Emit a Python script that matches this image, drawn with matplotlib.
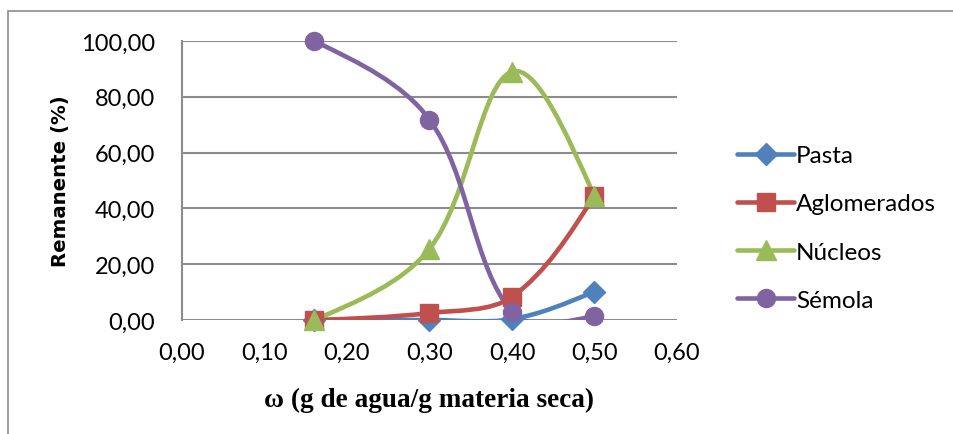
import matplotlib
matplotlib.use("Agg")
import matplotlib.pyplot as plt
import numpy as np
from matplotlib.path import Path
from matplotlib.patches import PathPatch, Rectangle
from matplotlib.lines import Line2D

# data
omega = [0.16, 0.30, 0.40, 0.50]
pasta = [0.0, 0.0, 0.3, 10.2]
aglomerados = [0.0, 2.5, 8.3, 44.6]
nucleos = [0.0, 25.5, 89.0, 44.3]
semola = [100.0, 71.8, 2.8, 1.5]

series_names = ["Pasta", "Aglomerados", "Núcleos", "Sémola"]
series_values = [pasta, aglomerados, nucleos, semola]
colors = ["#4F81BD", "#C0504D", "#9BBB59", "#8064A2"]
markers = ["D", "s", "^", "o"]
marker_sizes = [11, 13, 14, 13]

x_ticks = [0.0, 0.1, 0.2, 0.3, 0.4, 0.5, 0.6]
y_ticks = [0, 20, 40, 60, 80, 100]

tick_font = "Lato"


def smooth_path(ax, xs, ys):
    # Excel-like smoothed line: cubic Bezier pieces, tangents weighted by
    # the on-screen length of the neighbouring segments
    pts = ax.transData.transform(np.column_stack([xs, ys]))
    n = len(pts)
    after = [None] * n
    before = [None] * n
    for i in range(1, n - 1):
        d0 = np.hypot(*(pts[i] - pts[i - 1]))
        d1 = np.hypot(*(pts[i + 1] - pts[i]))
        tan = pts[i + 1] - pts[i - 1]
        before[i] = pts[i] - tan * d0 / (d0 + d1) / 3.0
        after[i] = pts[i] + tan * d1 / (d0 + d1) / 3.0
    after[0] = pts[0] + 0.5 * (before[1] - pts[0])
    before[n - 1] = pts[n - 1] + 0.5 * (after[n - 2] - pts[n - 1])
    verts = [pts[0]]
    codes = [Path.MOVETO]
    for i in range(n - 1):
        verts += [after[i], before[i + 1], pts[i + 1]]
        codes += [Path.CURVE4] * 3
    inv = ax.transData.inverted()
    return Path(inv.transform(np.array(verts)), codes)


fig = plt.figure(figsize=(9.54, 4.35), dpi=100)
fig.patches.append(Rectangle((8 / 954, -0.1), 1.2, 1 - 12 / 435 + 0.1,
                             transform=fig.transFigure, fill=False,
                             edgecolor="#8c8c8c", linewidth=1.2))

ax = fig.add_axes([182 / 954, 1 - 321 / 435, 495 / 954, 279 / 435])
ax.set_xlim(0, 0.6)
ax.set_ylim(0, 100)

for name, vals, c, m, ms in zip(series_names, series_values, colors, markers, marker_sizes):
    patch = PathPatch(smooth_path(ax, omega, vals), facecolor="none", edgecolor=c,
                      linewidth=3.3, capstyle="round", joinstyle="round")
    ax.add_patch(patch)
    ax.plot(omega, vals, linestyle="none", marker=m, markersize=ms, color=c,
            markeredgecolor=c, clip_on=False, zorder=5)

ax.set_xticks(x_ticks)
ax.set_yticks(y_ticks)
ax.set_xticklabels([f"{v:.2f}".replace(".", ",") for v in x_ticks],
                   fontfamily=tick_font, fontsize=17)
ax.set_yticklabels([f"{v:.2f}".replace(".", ",") for v in y_ticks],
                   fontfamily=tick_font, fontsize=17)
ax.tick_params(axis="both", length=0)
ax.tick_params(axis="x", pad=16)
ax.tick_params(axis="y", pad=19.5)

ax.grid(axis="y", color="#8c8c8c", linewidth=1.5)
ax.set_axisbelow(True)
for side in ["top", "right", "bottom"]:
    ax.spines[side].set_visible(False)
ax.spines["left"].set_color("#8c8c8c")
ax.spines["left"].set_linewidth(1.5)

ax.set_xlabel("ω (g de agua/g materia seca)", fontfamily="Liberation Serif",
              fontweight="bold", fontsize=19.6)
ax.xaxis.set_label_coords(0.5, -0.283)
ax.xaxis.label.set_va("center")
ax.set_ylabel("Remanente (%)", fontfamily="DejaVu Sans", fontweight="bold",
              fontsize=14.2)
ax.yaxis.set_label_coords(-0.246, 0.5)
ax.yaxis.label.set_va("center")

handles = [Line2D([], [], color=c, marker=m, markersize=ms, linewidth=3.3,
                  solid_capstyle="round")
           for c, m, ms in zip(colors, markers, marker_sizes)]
leg = fig.legend(handles, series_names, loc="center left",
                 bbox_to_anchor=(737 / 954, 1 - 229 / 435), frameon=False,
                 prop={"family": tick_font, "size": 17.5},
                 handlelength=2.35, handletextpad=0.08, labelspacing=1.12,
                 borderaxespad=0, borderpad=0)

fig.savefig("out.png", dpi=100)
